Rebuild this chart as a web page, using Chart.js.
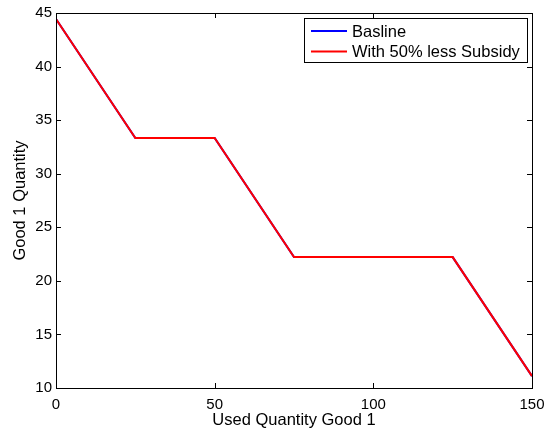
<!DOCTYPE html>
<html>
<head>
<meta charset="utf-8">
<script src="https://cdn.jsdelivr.net/npm/chart.js@4"></script>
<style>
html,body{margin:0;padding:0;background:#fff;}
#wrap{width:550px;height:432px;}
</style>
</head>
<body>
<div id="wrap"><canvas id="c" width="550" height="432"></canvas></div>
<script>
const xValues = [0, 25, 50, 75, 100, 125, 150];
const baselineValues = [44.44, 33.33, 33.33, 22.22, 22.22, 22.22, 11.11];
const subsidyValues = [44.44, 33.33, 33.33, 22.22, 22.22, 22.22, 11.11];
const seriesLabels = ['Basline', 'With 50% less Subsidy'];
const xTicks = [0, 50, 100, 150];
const yTicks = [10, 15, 20, 25, 30, 35, 40, 45];
const xTitle = 'Used Quantity Good 1';
const yTitle = 'Good 1 Quantity';

const FONT = '"Liberation Sans", Arial, Helvetica, sans-serif';

function pts(xs, ys){ return xs.map((x,i)=>({x:x, y:ys[i]})); }

const frame = {
  id: 'frame',
  afterDatasetsDraw(chart){
    const ctx = chart.ctx, a = chart.chartArea;
    const xs = chart.scales.x, ys = chart.scales.y;
    ctx.save();
    ctx.strokeStyle = '#000';
    ctx.lineWidth = 1;
    ctx.beginPath();
    xTicks.forEach(v=>{
      const px = Math.round(xs.getPixelForValue(v)) + 0.5;
      ctx.moveTo(px, a.bottom); ctx.lineTo(px, a.bottom - 5);
      ctx.moveTo(px, a.top); ctx.lineTo(px, a.top + 5);
    });
    yTicks.forEach(v=>{
      const py = Math.round(ys.getPixelForValue(v)) + 0.5;
      ctx.moveTo(a.left, py); ctx.lineTo(a.left + 5, py);
      ctx.moveTo(a.right, py); ctx.lineTo(a.right - 5, py);
    });
    ctx.stroke();
    ctx.strokeRect(Math.round(a.left)+0.5, Math.round(a.top)+0.5, Math.round(a.right-a.left), Math.round(a.bottom-a.top));
    // legend
    const lx0 = a.right - 228, lx1 = a.right - 5, ly0 = a.top + 5, ly1 = a.top + 49;
    ctx.fillStyle = '#fff';
    ctx.fillRect(lx0, ly0, lx1 - lx0, ly1 - ly0);
    ctx.strokeStyle = '#000';
    ctx.strokeRect(Math.round(lx0)+0.5, Math.round(ly0)+0.5, Math.round(lx1-lx0), Math.round(ly1-ly0));
    ctx.font = '16.5px ' + FONT;
    ctx.textBaseline = 'middle';
    ctx.textAlign = 'left';
    chart.data.datasets.forEach((ds, i)=>{
      const cy = ly0 + 13 + i * 20.5;
      ctx.strokeStyle = ds.borderColor;
      ctx.lineWidth = 2;
      ctx.beginPath();
      ctx.moveTo(lx0 + 7, cy); ctx.lineTo(lx0 + 43, cy);
      ctx.stroke();
      ctx.fillStyle = '#000';
      ctx.fillText(ds.label, lx0 + 48, cy + 1);
    });
    ctx.restore();
  }
};

new Chart(document.getElementById('c'), {
  type: 'line',
  data: {
    datasets: [
      { label: seriesLabels[0], data: pts(xValues, baselineValues), borderColor: '#0000ff', borderWidth: 2, pointRadius: 0, fill: false, tension: 0, order: 1 },
      { label: seriesLabels[1], data: pts(xValues, subsidyValues), borderColor: '#ff0000', borderWidth: 2, pointRadius: 0, fill: false, tension: 0, order: 0 }
    ]
  },
  options: {
    responsive: false,
    animation: false,
    devicePixelRatio: 1,
    layout: { padding: { top: 13, right: 0, left: 0, bottom: 0 } },
    plugins: { legend: { display: false }, tooltip: { enabled: false } },
    scales: {
      x: {
        type: 'linear', min: 0, max: 150,
        afterBuildTicks: s => { s.ticks = xTicks.map(v=>({value:v})); },
        afterFit: s => { s.height = 44; s.paddingRight = 18; s.paddingLeft = 0; },
        grid: { display: false, drawTicks: false },
        border: { display: false },
        ticks: { color: '#000', font: { family: FONT, size: 15 }, padding: 8, maxRotation: 0 },
        title: { display: true, text: xTitle, color: '#000', font: { family: FONT, size: 16.5, lineHeight: 1 }, padding: { top: 3, bottom: 3 } }
      },
      y: {
        type: 'linear', min: 10, max: 45,
        afterBuildTicks: s => { s.ticks = yTicks.map(v=>({value:v})); },
        afterFit: s => { s.width = 56; s.paddingTop = 0; s.paddingBottom = 0; },
        grid: { display: false, drawTicks: false },
        border: { display: false },
        ticks: { color: '#000', font: { family: FONT, size: 15 }, padding: 4 },
        title: { display: true, text: yTitle, color: '#000', font: { family: FONT, size: 16.5, lineHeight: 1 }, padding: { top: 12, bottom: 12 } }
      }
    }
  },
  plugins: [frame]
});
</script>
</body>
</html>
